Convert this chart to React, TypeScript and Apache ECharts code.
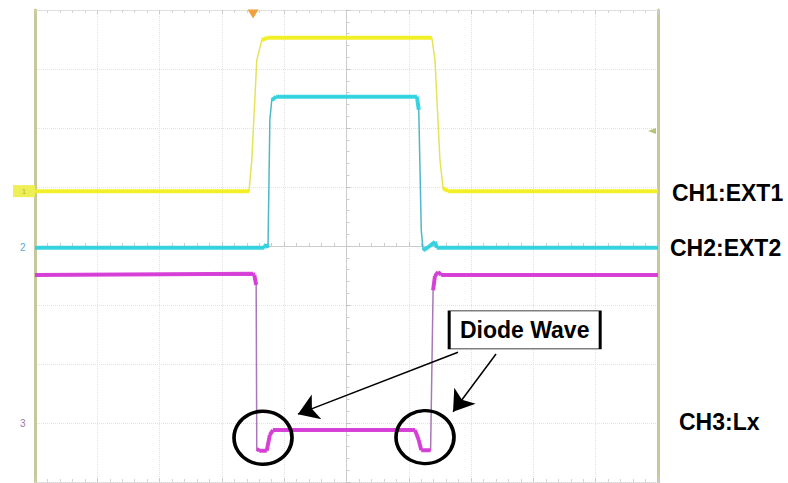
import React, { useEffect, useRef } from "react";
import * as echarts from "echarts";

// Oscilloscope screen: 10 horizontal divisions (-5..5), 8 vertical divisions (-4..4)
const xDivisions = [-5, 5];
const yDivisions = [-4, 4];

// Channel traces: [time (div), level (div)]
const ch1Ext1: [number, number][] = [
  [-5, 0.93], [-1.565, 0.93], [-1.52, 1.46], [-1.44, 3.15], [-1.36, 3.49], [-1.26, 3.53],
  [1.37, 3.53], [1.42, 3.15], [1.5, 1.46], [1.55, 0.98], [1.63, 0.93], [5, 0.93],
];
const ch2Ext2: [number, number][] = [
  [-5, -0.03], [-1.32, -0.03], [-1.29, 0.03], [-1.26, -0.03], [-1.23, 2.14], [-1.2, 2.47], [-1.13, 2.53],
  [1.13, 2.53], [1.16, 2.31], [1.2, 0.27], [1.23, -0.07], [1.3, -0.03], [1.42, 0.07], [1.45, -0.03], [5, -0.03],
];
const ch3Lx: [number, number][] = [
  [-5, -0.49], [-1.5, -0.47], [-1.48, -0.49], [-1.45, -0.66], [-1.44, -3.44], [-1.4, -3.47], [-1.28, -3.47],
  [-1.23, -3.2], [-1.18, -3.12], [1.1, -3.12], [1.16, -3.29], [1.2, -3.46], [1.35, -3.46],
  [1.39, -0.75], [1.42, -0.51], [1.47, -0.44], [1.52, -0.49], [5, -0.49],
];

// Annotations
const channelLabels = ["CH1:EXT1", "CH2:EXT2", "CH3:Lx"];
const annotationText = "Diode Wave";
const annotationBox: [number, number] = [2.86, -1.42];
const diodeCircles: [number, number][] = [[-1.34, -3.25], [1.26, -3.24]];
const arrowStarts: [number, number][] = [[1.79, -1.8], [2.4, -1.83]];
const arrowEnds: [number, number][] = [[-0.78, -2.85], [1.71, -2.81]];
const triggerTime = -1.5;
const triggerLevel = 1.95;
const markerLevels = [0.93, -0.03, -3.0];

const YELLOW = "#f2ee22";
const CYAN = "#2fd3df";
const MAGENTA = "#d63ad6";

function plateaus(pts: [number, number][]) {
  const out: any[] = [];
  for (let i = 0; i < pts.length - 1; i++) {
    const a = pts[i];
    const b = pts[i + 1];
    if (Math.abs(b[1] - a[1]) < 0.3) {
      out.push(a, b, [b[0], "-"]);
    }
  }
  return out;
}

export default function App() {
  const ref = useRef<HTMLDivElement>(null);
  useEffect(() => {
    document.body.style.margin = "0";
    const chart = echarts.init(ref.current!, null, { renderer: "svg" });
    const gridColor = "#e2e2e2";
    const khaki = "#c9c79c";
    const baseX = {
      type: "value" as const,
      min: xDivisions[0],
      max: xDivisions[1],
      interval: 1,
      axisLabel: { show: false },
    };
    const baseY = {
      type: "value" as const,
      min: yDivisions[0],
      max: yDivisions[1],
      interval: 1,
      axisLabel: { show: false },
    };
    const traceSeries = (name: string, pts: [number, number][], color: string, thin: string, extra: any = {}) => [
      {
        name: name + "-edge",
        type: "line",
        data: pts,
        showSymbol: false,
        symbol: "none",
        lineStyle: { color: thin, width: 1.5 },
        silent: true,
        z: 3,
      },
      {
        name,
        type: "line",
        data: plateaus(pts),
        showSymbol: false,
        symbol: "none",
        connectNulls: false,
        lineStyle: { color, width: 4, opacity: 0.95 },
        silent: true,
        z: 4,
        ...extra,
      },
    ];
    const leftMarker = (level: number, text: string, color: string) => ({
      coord: [xDivisions[0], level],
      symbol: "circle",
      symbolSize: 1,
      itemStyle: { color: "rgba(0,0,0,0)" },
      label: { show: true, formatter: text, color, fontSize: 10, position: "left", distance: 9 },
    });
    chart.setOption({
      animation: false,
      backgroundColor: "#ffffff",
      grid: { left: 35, right: 130, top: 10, bottom: 1 },
      xAxis: [
        {
          ...baseX,
          position: "bottom",
          axisLine: { show: true, onZero: true, lineStyle: { color: "#cccccc", width: 1 } },
          axisTick: { show: true, inside: true, length: 4, lineStyle: { color: "#c4c4c4" } },
          minorTick: { show: true, splitNumber: 5, length: 3, lineStyle: { color: "#cccccc" } },
          splitLine: { show: true, lineStyle: { color: gridColor, type: "dotted", width: 1 } },
        },
        {
          ...baseX,
          position: "top",
          axisLine: { show: true, onZero: false, lineStyle: { color: "#d8d8d8", type: "dotted" } },
          axisTick: { show: true, inside: true, length: 4, lineStyle: { color: "#cccccc" } },
          minorTick: { show: true, splitNumber: 5, length: 3, lineStyle: { color: "#d4d4d4" } },
          splitLine: { show: false },
        },
        {
          ...baseX,
          position: "bottom",
          axisLine: { show: true, onZero: false, lineStyle: { color: "#d8d8d8", type: "dotted" } },
          axisTick: { show: true, inside: true, length: 4, lineStyle: { color: "#cccccc" } },
          minorTick: { show: true, splitNumber: 5, length: 3, lineStyle: { color: "#d4d4d4" } },
          splitLine: { show: false },
        },
      ],
      yAxis: [
        {
          ...baseY,
          position: "left",
          axisLine: { show: true, onZero: true, lineStyle: { color: "#cccccc", width: 1 } },
          axisTick: { show: true, inside: true, length: 4, lineStyle: { color: "#c4c4c4" } },
          minorTick: { show: true, splitNumber: 5, length: 3, lineStyle: { color: "#cccccc" } },
          splitLine: { show: true, lineStyle: { color: gridColor, type: "dotted", width: 1 } },
        },
        {
          ...baseY,
          position: "right",
          axisLine: { show: true, onZero: false, lineStyle: { color: khaki, width: 3 } },
          axisTick: { show: false },
          splitLine: { show: false },
        },
        {
          ...baseY,
          position: "left",
          axisLine: { show: true, onZero: false, lineStyle: { color: khaki, width: 3 } },
          axisTick: { show: false },
          splitLine: { show: false },
        },
      ],
      series: [
        ...traceSeries("CH1", ch1Ext1, YELLOW, "#e6e25a", {
          markPoint: {
            silent: true,
            data: [
              {
                coord: [xDivisions[0], markerLevels[0]],
                symbol: "rect",
                symbolSize: [22, 12],
                symbolOffset: [-11, 0],
                itemStyle: { color: "#eeee55" },
                label: { show: true, formatter: "1", color: "#b8b830", fontSize: 8 },
              },
              {
                coord: [triggerTime, yDivisions[1]],
                symbol: "triangle",
                symbolRotate: 180,
                symbolSize: [11, 9],
                symbolOffset: [0, 4],
                itemStyle: { color: "#f0a040" },
                label: { show: false },
              },
              {
                coord: [xDivisions[1], triggerLevel],
                symbol: "triangle",
                symbolRotate: 90,
                symbolSize: [6, 8],
                symbolOffset: [-6, 0],
                itemStyle: { color: "#b9c27a" },
                label: { show: false },
              },
            ],
          },
        }),
        ...traceSeries("CH2", ch2Ext2, CYAN, "#4fb8c4", {
          markPoint: {
            silent: true,
            data: [leftMarker(markerLevels[1], "2", "#55aacc")],
          },
        }),
        ...traceSeries("CH3", ch3Lx, MAGENTA, "#a878b8", {
          markPoint: {
            silent: true,
            data: [
              leftMarker(markerLevels[2], "3", "#9a7ab0"),
              ...diodeCircles.map((c) => ({
                coord: c,
                symbol: "circle",
                symbolSize: [58, 53],
                itemStyle: { color: "rgba(0,0,0,0)", borderColor: "#000", borderWidth: 3.5 },
                label: { show: false },
              })),
              {
                coord: annotationBox,
                symbol: "rect",
                symbolSize: [151, 38],
                itemStyle: { color: "#fff", borderColor: "#000", borderWidth: 1.5 },
                label: {
                  show: true,
                  position: "inside",
                  formatter: annotationText,
                  color: "#000",
                  fontSize: 23,
                  fontWeight: "bold",
                  fontFamily: "Liberation Sans, Arial, sans-serif",
                },
              },
            ],
          },
          markLine: {
            silent: true,
            symbol: ["none", "arrow"],
            symbolSize: 20,
            label: { show: false },
            lineStyle: { color: "#000", width: 1.5, type: "solid" },
            data: arrowStarts.map((s, i) => [{ coord: s }, { coord: arrowEnds[i] }]),
          },
        }),
      ],
      graphic: [
        { type: "text", left: 672, top: 181, style: { text: channelLabels[0], fill: "#000", font: "bold 23px 'Liberation Sans', Arial, sans-serif" } },
        { type: "text", left: 670, top: 236, style: { text: channelLabels[1], fill: "#000", font: "bold 23px 'Liberation Sans', Arial, sans-serif" } },
        { type: "text", left: 679, top: 410, style: { text: channelLabels[2], fill: "#000", font: "bold 23px 'Liberation Sans', Arial, sans-serif" } },
      ],
    });
    return () => chart.dispose();
  }, []);
  return <div ref={ref} style={{ position: "fixed", left: 0, top: 0, width: 788, height: 483 }} />;
}
